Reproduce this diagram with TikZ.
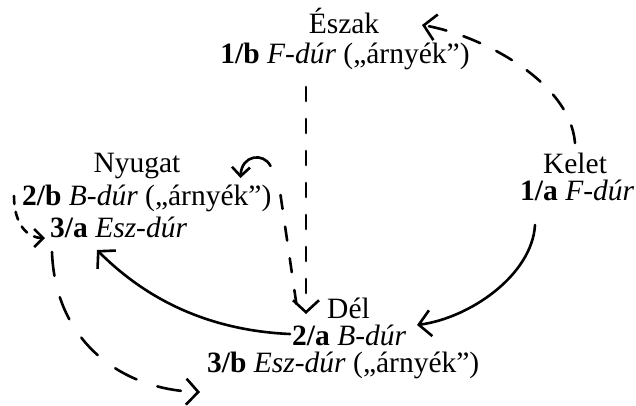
\documentclass[tikz,border=0pt]{standalone}
\usepackage{fontspec}
\setmainfont{Liberation Serif}
\usetikzlibrary{arrows.meta,calc}
\begin{document}
\begin{tikzpicture}[x=1pt,y=-1pt,
  lbl/.style={inner sep=0pt, font=\fontsize{29.5}{34}\selectfont},
  pen/.style={line width=2.6pt, line cap=round},
  tip/.style={-{Straight Barb[length=12pt,width=26pt]}},
  smalltip/.style={-{Straight Barb[length=9pt,width=18pt]}},
  dashlong/.style={dash pattern=on 18pt off 18pt},
  dashvert/.style={dash pattern=on 14pt off 18pt},
  dashshort/.style={dash pattern=on 8pt off 8pt},
  dashwide/.style={dash pattern=on 24pt off 22pt}]
\fill[white] (0,0) rectangle (636,405);
\useasboundingbox (0,0) rectangle (636,405);

% cardinal points and keys
\node[lbl,anchor=base] (eszak) at (344,33) {Észak};
\node[lbl,anchor=base] (fb) at (345,63) {\textbf{1/b} \textit{F-dúr} („árnyék”)};
\node[lbl,anchor=base] (nyugat) at (137,172) {Nyugat};
\node[lbl,anchor=base west] (ab) at (22,205) {\textbf{2/b} \textit{B-dúr} („árnyék”)};
\node[lbl,anchor=base west] (ea) at (50,237) {\textbf{3/a} \textit{Esz-dúr}};
\node[lbl,anchor=base] (kelet) at (575,173) {Kelet};
\node[lbl,anchor=base west] (fa) at (520,200) {\textbf{1/a} \textit{F-dúr}};
\node[lbl,anchor=base west] (del) at (327,318) {Dél};
\node[lbl,anchor=base west] (ba) at (292,345) {\textbf{2/a} \textit{B-dúr}};
\node[lbl,anchor=base west] (eb) at (207,372) {\textbf{3/b} \textit{Esz-dúr} („árnyék”)};

\coordinate (dtip) at ($(del.base west)+(-21,-4)$);

% Kelet -> Észak
\draw[pen,dashlong,tip] ($(kelet.base)+(0,-30)$)
  .. controls ($(kelet.base)+(-5,-92)$) and ($(eszak.base)+(136,2)$)
  .. ($(eszak.base)+(78,-8)$);

% 1/a -> 2/a
\draw[pen,tip] ($(fa.base west)+(15,25)$)
  .. controls ($(fa.base west)+(12,75)$) and ($(ba.base west)+(178,-27)$)
  .. ($(ba.base west)+(125,-20)$);

% 2/a -> 3/a
\draw[pen,tip] ($(ba.base west)+(-2,-11)$)
  .. controls ($(ba.base west)+(-92,-15)$) and ($(ea.base west)+(90,56)$)
  .. ($(ea.base west)+(47,13)$);

% 1/b -> Dél
\draw[pen,dashvert,tip] ($(fb.base)+(-39,24)$) -- (dtip);

% 2/b -> Dél
\draw[pen,dashvert] ($(ab.base east)+(9,-10)$) -- ($(dtip)+(-9,-6)$);

% turn-back arrow above 2/b
\draw[pen,smalltip] ($(ab.base east)+(-1,-39)$)
  .. controls ($(ab.base east)+(-8,-53)$) and ($(ab.base east)+(-30,-50)$)
  .. ($(ab.base east)+(-31,-27)$);

% 2/b -> 3/a
\draw[pen,dashshort,smalltip] ($(ab.base west)+(-8,-9)$)
  .. controls ($(ab.base west)+(-8,20)$) and ($(ea.base west)+(-22,1)$)
  .. ($(ea.base west)+(-5,1)$);

% 3/a -> 3/b
\draw[pen,dashwide,tip] ($(ea.base west)+(2,15)$)
  .. controls ($(ea.base west)+(5,103)$) and ($(eb.base west)+(-87,18)$)
  .. ($(eb.base west)+(-7,20)$);
\end{tikzpicture}
\end{document}
